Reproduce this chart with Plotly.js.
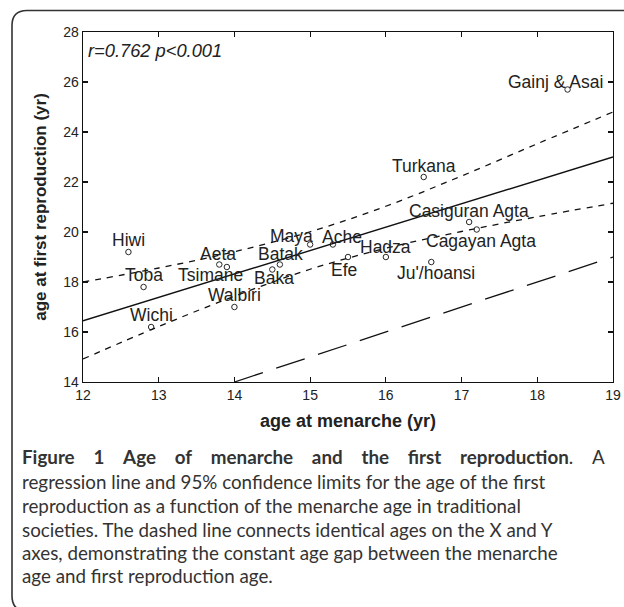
<!DOCTYPE html>
<html><head><meta charset="utf-8">
<script src="https://cdn.plot.ly/plotly-3.0.1.min.js"></script>
<style>html,body{margin:0;padding:0;background:#fff;}</style>
</head><body>
<div id="chart" style="width:624px;height:607px;"></div>
<script>
// ---- data ----
const societies = ["Hiwi","Toba","Wichi","Aeta","Tsimane","Walbiri","Baka","Batak","Maya","Ache","Efe","Hadza","Ju'/hoansi","Turkana","Casiguran Agta","Cagayan Agta","Gainj & Asai"];
const menarcheAge = [12.6,12.8,12.9,13.8,13.9,14.0,14.5,14.6,15.0,15.3,15.5,16.0,16.6,16.5,17.1,17.2,18.4];
const firstReproAge = [19.2,17.8,16.2,18.7,18.6,17.0,18.5,18.7,19.5,19.5,19.0,19.0,18.8,22.2,20.4,20.1,25.7];
const fitX = [12,13,14,15,16,17,18,19];
const fitY = [16.45,17.39,18.32,19.26,20.19,21.13,22.07,23.0];
const upperCI = [18.0,18.56,19.21,20.01,21.03,22.24,23.53,24.8];
const lowerCI = [14.92,16.22,17.43,18.51,19.35,20.02,20.61,21.15];
const identityX = [14,19];
const identityY = [14,19];
const xTickVals = [12,13,14,15,16,17,18,19];
const yTickVals = [14,16,18,20,22,24,26,28];
const statText = "r=0.762 p<0.001";
const G = "\u2003\u2005";
const captionLines = [
  "<b>Figure" + G + "1" + G + "Age" + G + "of" + G + "menarche" + G + "and" + G + "the" + G + "first" + G + "reproduction</b>." + G + "A",
  "regression line and 95% confidence limits for the age of the first",
  "reproduction as a function of the menarche age in traditional",
  "societies. The dashed line connects identical ages on the X and Y",
  "axes, demonstrating the constant age gap between the menarche",
  "age and first reproduction age."
];

// ---- label placement (pixel offsets from each point) ----
const labelShift = [[0,12],[0,12],[0,12],[-1,11],[-16,-8],[0,12.5],[1.5,-8],[0.5,10.5],[-19,8.5],[9,8],[-4,-12.5],[0,10.5],[4.5,-11],[0.5,11.5],[0,11],[4,-11.5],[-12,8]];

// ---- geometry helpers (plot area in px) ----
const L = 83, R = 613, T = 32, B = 382;
const W = R - L, H = B - T;
const fx = px => (px - L) / W;
const fy = py => (B - py) / H;

const txtFont = {family: "Liberation Sans, Arial, sans-serif", size: 17.5, color: "#222"};

const traces = [
  {x: fitX, y: upperCI, mode: "lines", line: {color: "#111", width: 1.3, dash: "6px,6px", shape: "spline"}, hoverinfo: "skip"},
  {x: fitX, y: lowerCI, mode: "lines", line: {color: "#111", width: 1.3, dash: "6px,6px", shape: "spline"}, hoverinfo: "skip"},
  {x: fitX, y: fitY, mode: "lines", line: {color: "#111", width: 1.4}, hoverinfo: "skip"},
  {x: identityX, y: identityY, mode: "lines", line: {color: "#111", width: 1.3, dash: "30px,14px"}, hoverinfo: "skip"},
  {x: menarcheAge, y: firstReproAge, mode: "markers", text: societies,
   marker: {symbol: "circle-open", size: 5.5, color: "#111", line: {width: 0.9, color: "#111"}}}
];

const annotations = societies.map((s, i) => ({
  x: menarcheAge[i], y: firstReproAge[i], xref: "x", yref: "y",
  text: s, showarrow: false, xanchor: "center", yanchor: "middle",
  xshift: labelShift[i][0], yshift: labelShift[i][1], font: txtFont
}));

annotations.push({
  xref: "paper", yref: "paper", x: fx(86), y: fy(50.5), xanchor: "left", yanchor: "middle",
  text: "<i>" + statText.replace("<", "&lt;") + "</i>", showarrow: false,
  font: {family: "Liberation Sans, Arial, sans-serif", size: 18.3, color: "#222"}
});

const capCenters = [457, 481, 505, 529, 552, 575];
captionLines.forEach((t, i) => {
  annotations.push({
    xref: "paper", yref: "paper", x: fx(20), y: fy(capCenters[i]), xanchor: "left", yanchor: "middle",
    text: t, showarrow: false, align: "left",
    font: {family: "Lato, Open Sans, sans-serif", size: 18.8, color: "#333"}
  });
});

const rad = 15, bl = 12, bt = 10.5, br = 660, bb = 611;
const borderPath = `M ${fx(br)},${fy(bt)} L ${fx(bl + rad)},${fy(bt)} Q ${fx(bl)},${fy(bt)} ${fx(bl)},${fy(bt + rad)} ` +
  `L ${fx(bl)},${fy(bb - rad)} Q ${fx(bl)},${fy(bb)} ${fx(bl + rad)},${fy(bb)} L ${fx(br)},${fy(bb)}`;

const axisCommon = {
  showgrid: false, zeroline: false, showline: true, linecolor: "#111", linewidth: 1.3,
  mirror: "ticks", ticks: "inside", ticklen: 5, tickwidth: 1.1, tickcolor: "#111",
  tickfont: {family: "Liberation Sans, Arial, sans-serif", size: 14, color: "#222"}
};

const layout = {
  width: 624, height: 607,
  margin: {l: L, r: 624 - R, t: T, b: 607 - B, pad: 0},
  paper_bgcolor: "#fff", plot_bgcolor: "#fff",
  showlegend: false,
  xaxis: Object.assign({}, axisCommon, {
    range: [12, 19], tickvals: xTickVals, ticktext: xTickVals.map(String),
    title: {text: "<b>age at menarche (yr)</b>", standoff: 12,
      font: {family: "Liberation Sans, Arial, sans-serif", size: 18, color: "#222"}}
  }),
  yaxis: Object.assign({}, axisCommon, {
    range: [14, 28], tickvals: yTickVals, ticktext: yTickVals.map(String),
    title: {text: "<b>age at first reproduction (yr)</b>", standoff: 12,
      font: {family: "Liberation Sans, Arial, sans-serif", size: 17, color: "#222"}}
  }),
  annotations: annotations,
  shapes: [{type: "path", xref: "paper", yref: "paper", path: borderPath,
    line: {color: "#333", width: 1.6}, fillcolor: "rgba(0,0,0,0)"}]
};

Plotly.newPlot("chart", traces, layout, {displayModeBar: false, staticPlot: true});
</script>
</body></html>
